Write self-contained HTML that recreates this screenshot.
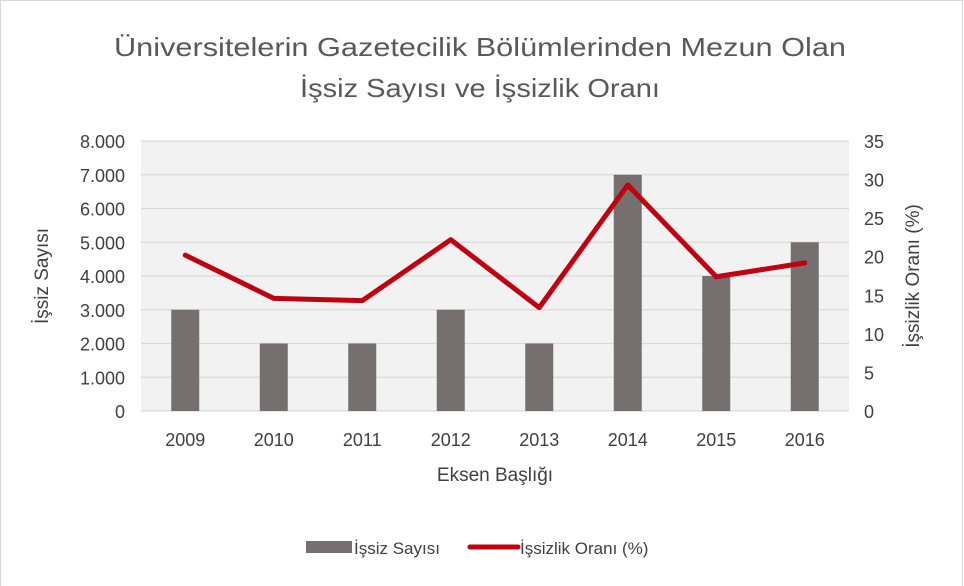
<!DOCTYPE html>
<html><head><meta charset="utf-8"><style>
body{margin:0;background:#fff;font-family:"Liberation Sans",sans-serif;}
#c{position:relative;width:964px;height:586px;overflow:hidden;}
</style></head><body>
<div id="c">
<svg id="s" width="964" height="586" xmlns="http://www.w3.org/2000/svg" style="position:absolute;left:0;top:0">
<rect x="0.5" y="0.5" width="962" height="590" fill="#fff" stroke="#d9d9d9"/>
<text x="480" y="56" text-anchor="middle" font-size="26" textLength="732" lengthAdjust="spacingAndGlyphs" fill="#595959">Üniversitelerin Gazetecilik Bölümlerinden Mezun Olan</text>
<text x="480" y="97" text-anchor="middle" font-size="26" textLength="360" lengthAdjust="spacingAndGlyphs" fill="#595959">İşsiz Sayısı ve İşsizlik Oranı</text>
<rect x="141" y="141" width="708" height="270" fill="#f2f2f2"/>
<g id="grid"></g><g id="bars"></g><g id="line"></g><g id="axes"></g>
<text transform="translate(48,276) rotate(-90)" text-anchor="middle" font-size="19" fill="#404040">İşsiz Sayısı</text>
<text transform="translate(919,276) rotate(-90)" text-anchor="middle" font-size="19" fill="#404040">İşsizlik Oranı (%)</text>
<text x="495" y="481" text-anchor="middle" font-size="19" fill="#404040">Eksen Başlığı</text>
<g>
<rect x="306" y="541" width="46" height="12" fill="#75706f"/>
<text x="354" y="554" font-size="17" fill="#404040">İşsiz Sayısı</text>
<line x1="470" y1="547" x2="518" y2="547" stroke="#c00011" stroke-width="5" stroke-linecap="round"/>
<text x="520" y="554" font-size="17" fill="#404040">İşsizlik Oranı (%)</text>
</g>
</svg>
</div>
<script>
const categories=["2009","2010","2011","2012","2013","2014","2015","2016"];
const counts=[3000,2000,2000,3000,2000,7000,4000,5000];
const rates=[20.2,14.6,14.3,22.2,13.4,29.3,17.4,19.2];
const leftTicks=["0","1.000","2.000","3.000","4.000","5.000","6.000","7.000","8.000"];
const rightTicks=["0","5","10","15","20","25","30","35"];
const NS="http://www.w3.org/2000/svg";
const X0=141,X1=849,Y0=411,Y1=141,band=(X1-X0)/categories.length;
const xC=i=>X0+band*(i+0.5);
const yL=v=>Y0-(v/8000)*(Y0-Y1);
const yR=v=>Y0-(v/35)*(Y0-Y1);
function mk(t,a,p){const e=document.createElementNS(NS,t);for(const k in a)e.setAttribute(k,a[k]);document.getElementById(p).appendChild(e);return e;}
leftTicks.forEach((t,i)=>{const y=yL(i*1000);
 const g=mk('line',{x1:X0,x2:X1,y1:y,y2:y,stroke:'#d9d9d9','stroke-width':1.3},'grid');
 
 
 const l=mk('text',{x:X0-16,y:y+7,'text-anchor':'end','font-size':18,fill:'#404040'},'axes');l.textContent=t;
 
 
});
rightTicks.forEach((t,i)=>{const y=yR(i*5);
 const l=mk('text',{x:864,y:y+7,'font-size':18,fill:'#404040'},'axes');l.textContent=t;
 
 
});
categories.forEach((c,i)=>{
 const b=mk('rect',{x:xC(i)-14,y:yL(counts[i]),width:28,height:Y0-yL(counts[i]),fill:'#75706f'},'bars');
 
 
 const l=mk('text',{x:xC(i),y:446,'text-anchor':'middle','font-size':18,fill:'#404040'},'axes');l.textContent=c;
 
 
});
const pl=mk('polyline',{points:rates.map((v,i)=>xC(i)+','+yR(v)).join(' '),fill:'none',stroke:'#c00011','stroke-width':5,'stroke-linejoin':'round','stroke-linecap':'round'},'line');


</script>
</body></html>
